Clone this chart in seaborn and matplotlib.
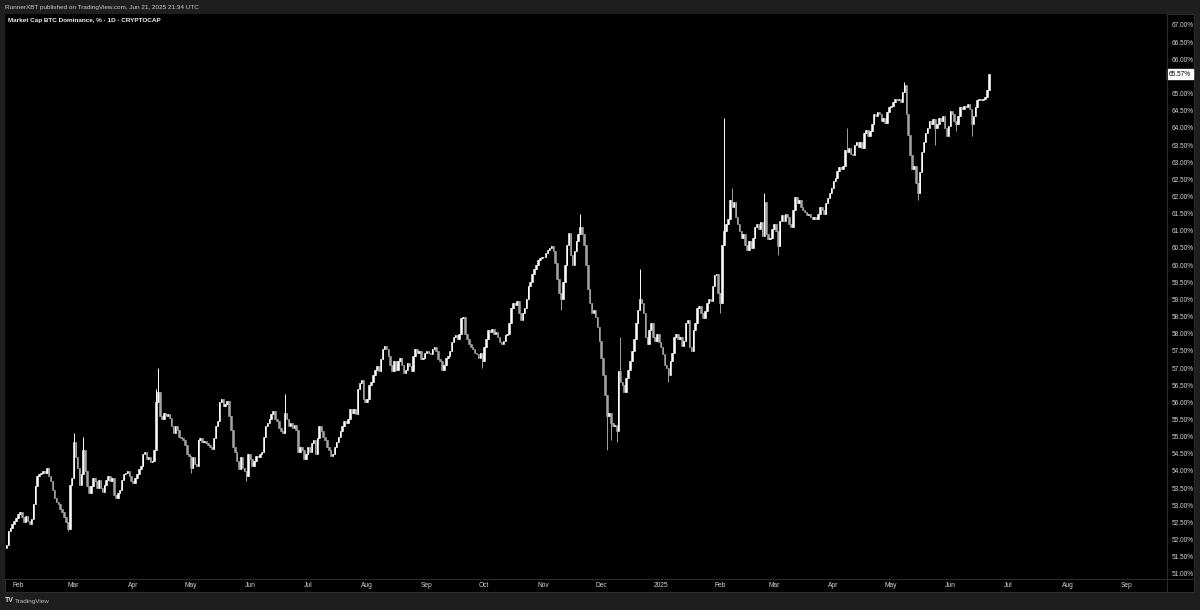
import numpy as np
import pandas as pd
import matplotlib
matplotlib.use("Agg")
import matplotlib.pyplot as plt
import matplotlib.dates as mdates
import matplotlib.transforms as mtransforms
from matplotlib.patches import Rectangle
import seaborn as sns

# ---------------- data (daily closes, % BTC dominance) ----------------
START_DATE = "2024-01-26"
FIRST_OPEN = 51.75

close_jan24 = [51.85, 52.25, 52.35, 52.45, 52.55, 52.62]
close_feb24 = [52.75, 52.8, 52.65, 52.52, 52.7, 52.55, 52.45, 52.6, 53.05, 53.55, 53.85, 53.9, 53.95, 54.0,
               53.95, 54.08, 53.85, 53.7, 53.45, 53.2, 53.1, 53.05, 52.9, 52.8, 52.65, 52.5, 52.3, 53.6, 53.8]
close_mar24 = [54.85, 54.4, 54.1, 53.6, 53.9, 54.6, 54.0, 53.55, 53.35, 53.55, 53.8, 53.7, 53.5, 53.75, 53.5,
               53.4, 53.6, 53.75, 53.85, 53.7, 53.8, 53.3, 53.2, 53.35, 53.45, 53.75, 53.9, 53.95, 54.0, 53.85, 53.7]
close_apr24 = [53.65, 53.8, 53.9, 54.05, 54.15, 54.5, 54.55, 54.35, 54.4, 54.25, 54.3, 54.6, 56.0, 56.3, 55.6,
               55.5, 55.7, 55.6, 55.65, 55.55, 55.3, 55.1, 55.3, 55.2, 55.0, 54.95, 54.9, 54.75, 54.5, 54.45]
close_may24 = [54.1, 54.4, 54.2, 54.15, 54.9, 54.95, 54.85, 54.88, 54.8, 54.75, 54.7, 54.65, 54.95, 55.3, 55.45,
               56.0, 56.1, 55.9, 55.95, 56.05, 55.6, 55.2, 54.7, 54.55, 54.3, 54.05, 54.4, 54.1, 54.0, 53.85, 54.5]
close_jun24 = [54.35, 54.15, 54.3, 54.45, 54.4, 54.5, 54.55, 55.0, 55.3, 55.4, 55.5, 55.65, 55.75, 55.5, 55.45,
               55.25, 55.15, 55.1, 55.7, 55.5, 55.3, 55.4, 55.25, 55.35, 55.2, 54.55, 54.7, 54.6, 54.35, 54.5]
close_jul24 = [54.7, 54.55, 54.8, 54.9, 54.5, 54.95, 55.3, 55.15, 55.0, 54.9, 54.7, 54.6, 54.45, 54.5, 54.7,
               54.85, 55.0, 55.15, 55.3, 55.45, 55.4, 55.5, 55.8, 55.7, 55.8, 55.65, 56.4, 56.55, 56.65, 56.1, 56.0]
close_aug24 = [56.1, 56.5, 56.6, 56.8, 56.95, 57.05, 56.9, 57.25, 57.55, 57.65, 57.55, 57.35, 57.1, 56.9, 57.2,
               56.95, 57.2, 57.3, 57.1, 56.85, 56.95, 57.15, 57.05, 56.9, 57.35, 57.55, 57.45, 57.5, 57.25, 57.3, 57.45]
close_sep24 = [57.5, 57.45, 57.4, 57.55, 57.6, 57.5, 57.25, 57.2, 56.95, 57.1, 57.3, 57.35, 57.5, 57.75, 57.9,
               57.95, 57.85, 58.0, 58.45, 58.5, 58.0, 57.85, 57.7, 57.6, 57.55, 57.45, 57.4, 57.3, 57.45, 57.2]
close_oct24 = [57.6, 57.85, 58.1, 58.05, 58.15, 58.0, 58.05, 57.9, 57.75, 57.7, 57.8, 57.95, 58.0, 58.3, 58.75,
               58.9, 58.85, 58.95, 58.6, 58.4, 58.6, 58.75, 59.0, 59.4, 59.5, 59.75, 59.9, 60.0, 60.15, 60.2, 60.25]
close_nov24 = [60.25, 60.35, 60.45, 60.5, 60.55, 60.4, 60.05, 59.6, 59.2, 59.0, 59.5, 60.0, 60.6, 60.95, 60.3,
               60.0, 60.4, 60.7, 60.9, 61.1, 60.9, 60.6, 60.0, 59.3, 58.9, 58.6, 58.7, 58.5, 58.2, 57.8]
close_dec24 = [57.3, 56.8, 56.2, 55.6, 55.7, 55.4, 55.3, 55.35, 55.15, 56.9, 56.6, 56.5, 56.3, 56.7, 56.95,
               57.2, 57.5, 57.85, 58.3, 58.7, 59.0, 58.9, 58.6, 57.9, 57.7, 58.1, 58.3, 57.9, 57.8, 58.0, 57.75]
close_jan25 = [57.6, 57.4, 57.1, 57.0, 56.8, 57.2, 57.45, 57.9, 58.0, 57.85, 57.9, 57.65, 57.8, 58.3, 58.4,
               57.6, 57.5, 58.1, 58.3, 58.75, 58.8, 58.6, 58.45, 58.65, 58.9, 59.0, 58.95, 59.4, 59.7, 59.75, 59.2]
close_feb25 = [58.9, 60.6, 61.0, 61.2, 61.35, 61.9, 61.7, 61.85, 61.4, 61.2, 61.0, 60.8, 60.9, 60.6, 60.45,
               60.7, 60.5, 60.8, 61.1, 61.2, 61.05, 61.25, 60.85, 61.85, 60.9, 60.75, 60.8, 61.05]
close_mar25 = [61.2, 61.0, 60.55, 61.3, 61.45, 61.3, 61.5, 61.4, 61.2, 61.1, 61.6, 62.0, 61.8, 61.9, 61.7,
               61.6, 61.55, 61.45, 61.5, 61.4, 61.35, 61.4, 61.35, 61.5, 61.7, 61.6, 61.5, 61.8, 61.95, 62.1, 62.25]
close_apr25 = [62.45, 62.55, 62.75, 62.85, 62.8, 62.9, 63.35, 63.3, 63.4, 63.25, 63.2, 63.5, 63.6, 63.45, 63.6,
               63.4, 63.85, 63.95, 63.75, 63.9, 64.1, 64.4, 64.35, 64.45, 64.4, 64.2, 64.3, 64.15, 64.45, 64.6]
close_may25 = [64.65, 64.75, 64.85, 64.8, 64.85, 64.75, 65.05, 65.25, 64.4, 63.8, 63.2, 62.8, 62.9, 62.4, 62.1,
               62.7, 63.3, 63.6, 63.85, 64.0, 64.2, 64.1, 64.25, 64.0, 64.1, 64.3, 64.2, 64.35, 64.0, 63.75, 64.05]
close_jun25 = [64.5, 64.4, 64.2, 64.1, 64.35, 64.6, 64.55, 64.65, 64.6, 64.7, 64.55, 64.1, 64.35, 64.6, 64.8,
               64.85, 64.8, 64.85, 64.9, 65.1, 65.57]

# notable wicks
wick_high = {"2024-03-01": 55.1, "2024-03-06": 55.0, "2024-04-13": 56.4, "2024-04-14": 57.0,
             "2024-06-19": 56.25, "2024-11-20": 61.5, "2024-12-11": 57.9, "2024-12-21": 59.9,
             "2025-02-03": 64.3, "2025-02-07": 62.25, "2025-02-24": 62.1, "2025-04-08": 64.0,
             "2025-05-08": 65.35}
wick_low = {"2024-02-27": 52.25, "2024-05-01": 53.95, "2024-05-30": 53.7, "2024-09-30": 57.0,
            "2024-11-10": 58.7, "2024-12-04": 54.6, "2024-12-06": 54.9, "2024-12-09": 54.85,
            "2025-01-05": 56.6, "2025-02-01": 58.6, "2025-03-03": 60.3, "2025-05-15": 61.9,
            "2025-05-24": 63.5, "2025-06-04": 63.9, "2025-06-12": 63.75}

y_tick_values = [51.0, 51.5, 52.0, 52.5, 53.0, 53.5, 54.0, 54.5, 55.0, 55.5, 56.0, 56.5, 57.0, 57.5, 58.0,
                 58.5, 59.0, 59.5, 60.0, 60.5, 61.0, 61.5, 62.0, 62.5, 63.0, 63.5, 64.0, 64.5, 65.0, 66.0,
                 66.5, 67.0]
month_ticks = ["2024-02-01", "2024-03-01", "2024-04-01", "2024-05-01", "2024-06-01", "2024-07-01",
               "2024-08-01", "2024-09-01", "2024-10-01", "2024-11-01", "2024-12-01", "2025-01-01",
               "2025-02-01", "2025-03-01", "2025-04-01", "2025-05-01", "2025-06-01", "2025-07-01",
               "2025-08-01", "2025-09-01"]
month_labels = ["Feb", "Mar", "Apr", "May", "Jun", "Jul", "Aug", "Sep", "Oct", "Nov", "Dec", "2025",
                "Feb", "Mar", "Apr", "May", "Jun", "Jul", "Aug", "Sep"]
last_price_label = "65.57%"
header_text = "RunnerXBT published on TradingView.com, Jun 21, 2025 21:34 UTC"
title_text = "Market Cap BTC Dominance, % \u00b7 1D \u00b7 CRYPTOCAP"

# ---------------- build OHLC ----------------
closes = (close_jan24 + close_feb24 + close_mar24 + close_apr24 + close_may24 + close_jun24 + close_jul24 +
          close_aug24 + close_sep24 + close_oct24 + close_nov24 + close_dec24 + close_jan25 + close_feb25 +
          close_mar25 + close_apr25 + close_may25 + close_jun25)
dates = pd.date_range(START_DATE, periods=len(closes), freq="D")
df = pd.DataFrame({"date": dates, "close": closes})
df["open"] = df["close"].shift(1).fillna(FIRST_OPEN)
df["high"] = df[["open", "close"]].max(axis=1)
df["low"] = df[["open", "close"]].min(axis=1)
for d, v in wick_high.items():
    df.loc[df["date"] == pd.Timestamp(d), "high"] = v
for d, v in wick_low.items():
    df.loc[df["date"] == pd.Timestamp(d), "low"] = v
df["x"] = mdates.date2num(df["date"])
df["up"] = df["close"] >= df["open"]

# ---------------- style ----------------
sns.set_theme(style="dark", rc={"axes.facecolor": "black", "figure.facecolor": "#1e1e1e",
                                "axes.edgecolor": "black", "axes.grid": False})
plt.rcParams["font.family"] = ["Liberation Sans", "DejaVu Sans"]

W, H = 1200, 610
fig = plt.figure(figsize=(W / 100, H / 100), dpi=100, facecolor="#1e1e1e")


def fx(px):
    return px / W


def fy(py):
    return 1 - py / H


panel = Rectangle((fx(5), fy(592)), fx(1194) - fx(5), fy(14) - fy(592), transform=fig.transFigure,
                  facecolor="black", edgecolor="#2c2c2c", linewidth=0.8, zorder=-5)
fig.patches.append(panel)

ax = fig.add_axes([fx(5), fy(579), fx(1167) - fx(5), fy(14) - fy(579)])
ax.set_zorder(1)
ax.set_facecolor("black")

UP_COLOR = "#ffffff"
DOWN_COLOR = "#a3a3a3"
colors = np.where(df["up"], UP_COLOR, DOWN_COLOR)

ax.vlines(df["x"], df["low"], df["high"], colors=colors, linewidth=0.7, zorder=2)
ax.bar(df["x"], df["close"] - df["open"], bottom=df["open"], width=0.8, color=colors,
       edgecolor=colors, linewidth=0.4, zorder=3)

x0 = mdates.date2num(pd.Timestamp(START_DATE))
ax.set_xlim(x0 - 0.78, x0 + 604.9)
ax.set_ylim(50.85, 67.32)

# y axis on the right
ax.yaxis.tick_right()
ax.set_yticks(y_tick_values)
ax.set_yticklabels([f"{v:.2f}%" for v in y_tick_values])
ax.tick_params(axis="y", length=0, pad=3.2, labelsize=4.7, labelcolor="#d4d4d4")

# x axis months
ax.set_xticks(mdates.date2num(pd.to_datetime(month_ticks)))
ax.set_xticklabels(month_labels)
ax.tick_params(axis="x", length=0, pad=2.2, labelsize=4.8, labelcolor="#d4d4d4")
for s in ax.spines.values():
    s.set_visible(False)

# separators
fig.add_artist(plt.Line2D([fx(1167), fx(1167)], [fy(14), fy(592)], color="#2c2c2c", linewidth=0.8))
fig.add_artist(plt.Line2D([fx(5), fx(1194)], [fy(579), fy(579)], color="#2c2c2c", linewidth=0.8))

# last price label
trans = mtransforms.blended_transform_factory(fig.transFigure, ax.transData)
ax.text(fx(1180), closes[-1], last_price_label, transform=trans, ha="center", va="center",
        fontsize=4.7, color="black", zorder=10, clip_on=False,
        bbox=dict(boxstyle="square,pad=0.3", facecolor="white", edgecolor="white"))

# header, title, footer
fig.text(fx(5), fy(7), header_text, ha="left", va="center", fontsize=4.6, color="#cfcfcf")
fig.text(fx(8), fy(20.5), title_text, ha="left", va="center", fontsize=4.6, color="#f0f0f0",
         fontweight="bold", zorder=5)
fig.text(fx(5), fy(601), "TV", ha="left", va="center", fontsize=5, color="#e0e0e0", fontweight="bold")
fig.text(fx(15), fy(601), "TradingView", ha="left", va="center", fontsize=4.6, color="#bdbdbd")

fig.savefig("out.png", dpi=100, facecolor=fig.get_facecolor())
